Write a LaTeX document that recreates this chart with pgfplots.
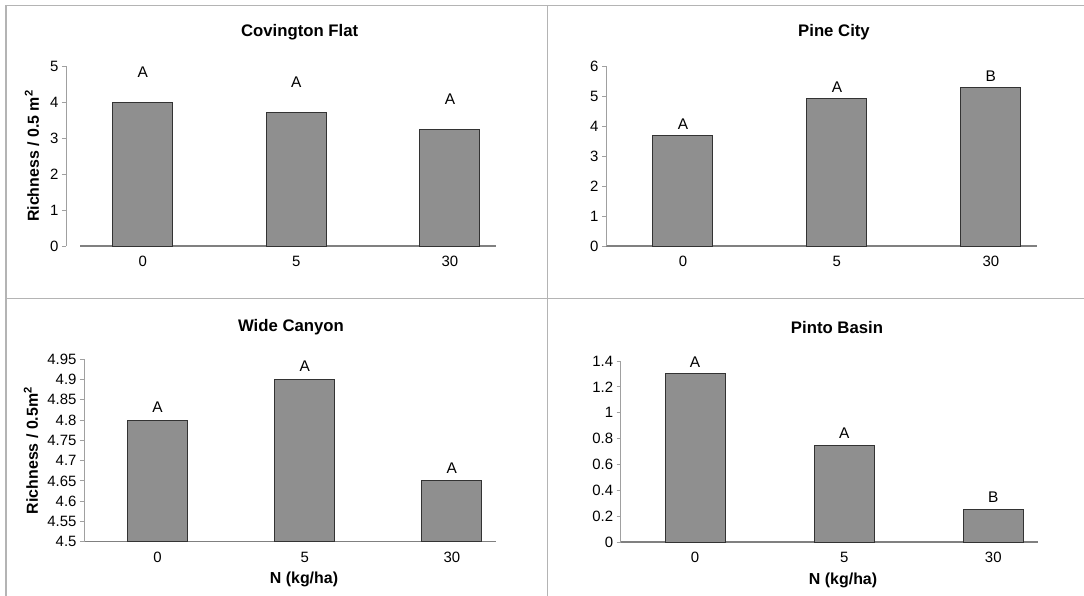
\documentclass[border=0pt]{standalone}
\usepackage{fontspec}
\setmainfont{Liberation Sans}
\usepackage{pgfplots}
\pgfplotsset{compat=1.18}
\usepackage{pgfplotstable}
\definecolor{barfill}{HTML}{8F8F8F}
\definecolor{baredge}{HTML}{333333}
\definecolor{framecol}{HTML}{B4B4B4}
\definecolor{yaxiscol}{HTML}{A0A0A0}
\definecolor{xaxiscol}{HTML}{808080}

\pgfplotstableread{
x y lab
0 4.00 A
1 3.72 A
2 3.24 A
}\covington
\pgfplotstableread{
x y lab
0 3.70 A
1 4.92 A
2 5.30 B
}\pinecity
\pgfplotstableread{
x y lab
0 4.80 A
1 4.90 A
2 4.65 A
}\widecanyon
\pgfplotstableread{
x y lab
0 1.30 A
1 0.75 A
2 0.25 B
}\pintobasin

\newcommand{\labfont}{\bfseries\fontsize{16}{17}\selectfont}
\newcommand{\titfont}{\bfseries\fontsize{16.8}{18}\selectfont}

\pgfplotsset{
  panel/.style={
    scale only axis, anchor=south west,
    xmin=-0.5, xmax=2.3,
    axis lines*=left,
    x axis line style={xaxiscol, line width=1.2bp},
    y axis line style={yaxiscol, line width=1bp},
    xtick={0,1,2}, xticklabels={0,5,30},
    xtick style={draw=none},
    ytick style={yaxiscol, line width=1bp},
    tick align=outside, major tick length=4bp,
    tick label style={font=\fontsize{15}{15}\selectfont},
    xticklabel style={yshift=-3bp},
    /pgf/number format/assume math mode=true,
    ybar, bar width=60bp,
    clip mode=individual,
    nodes near coords, point meta=explicit symbolic,
    every node near coord/.append style={font=\fontsize{15.5}{15.5}\selectfont, anchor=center},
  },
  barstyle/.style={fill=barfill, draw=baredge, line width=1bp},
}

\begin{document}
\begin{tikzpicture}
\fill[white] (0,0) rectangle (1084bp,-596bp);
\path[use as bounding box] (0,0) rectangle (1084bp,-596bp);
% frame lines
\draw[framecol, line width=1.6bp] (5bp,-5.5bp) -- (1084bp,-5.5bp);
\draw[framecol, line width=1.6bp] (6bp,-5bp) -- (6bp,-596bp);
\draw[framecol, line width=1.6bp] (547.5bp,-5bp) -- (547.5bp,-596bp);
\draw[framecol, line width=1.6bp] (6bp,-298.5bp) -- (1084bp,-298.5bp);

% Covington Flat
\begin{axis}[panel, at={(66bp,-246bp)}, width=430bp, height=180bp,
  ymin=0, ymax=5, ytick={0,1,2,3,4,5},
  x axis line style={shorten <=14bp},
  every node near coord/.append style={yshift=30bp},
  ylabel={Richness / 0.5 m\textsuperscript{2}},
  every axis y label/.style={at={(axis description cs:-0.079,0.5)}, rotate=90, anchor=center, font=\labfont}]
\addplot[barstyle] table[x=x,y=y,meta=lab]{\covington};
\end{axis}
\node[font=\titfont] at (299.6bp,-32.7bp) {Covington Flat};

% Pine City
\begin{axis}[panel, at={(606bp,-246bp)}, width=431bp, height=180bp,
  ymin=0, ymax=6, ytick={0,1,2,3,4,5,6},
  every node near coord/.append style={yshift=11bp}]
\addplot[barstyle] table[x=x,y=y,meta=lab]{\pinecity};
\end{axis}
\node[font=\titfont] at (834bp,-31.7bp) {Pine City};

% Wide Canyon
\begin{axis}[panel, at={(84bp,-541.7bp)}, width=412bp, height=182.4bp,
  ymin=4.5, ymax=4.95,
  ytick={4.5,4.55,4.6,4.65,4.7,4.75,4.8,4.85,4.9,4.95},
  yticklabels={4.5,4.55,4.6,4.65,4.7,4.75,4.8,4.85,4.9,4.95},
  every node near coord/.append style={yshift=13bp},
  ylabel={Richness / 0.5m\textsuperscript{2}},
  every axis y label/.style={at={(axis description cs:-0.1286,0.5)}, rotate=90, anchor=center, font=\labfont},
  xlabel={N (kg/ha)},
  every axis x label/.style={at={(axis description cs:0.534,0)}, anchor=center, yshift=-38bp, font=\labfont}]
\addplot[barstyle] table[x=x,y=y,meta=lab]{\widecanyon};
\end{axis}
\node[font=\titfont] at (291bp,-326.7bp) {Wide Canyon};

% Pinto Basin
\begin{axis}[panel, at={(620.6bp,-542bp)}, width=417.4bp, height=181bp,
  ymin=0, ymax=1.4,
  ytick={0,0.2,0.4,0.6,0.8,1,1.2,1.4},
  yticklabels={0,0.2,0.4,0.6,0.8,1,1.2,1.4},
  every node near coord/.append style={yshift=12bp},
  xlabel={N (kg/ha)},
  every axis x label/.style={at={(axis description cs:0.533,0)}, anchor=center, yshift=-38bp, font=\labfont}]
\addplot[barstyle] table[x=x,y=y,meta=lab]{\pintobasin};
\end{axis}
\node[font=\titfont] at (837bp,-327.7bp) {Pinto Basin};
\end{tikzpicture}
\end{document}
